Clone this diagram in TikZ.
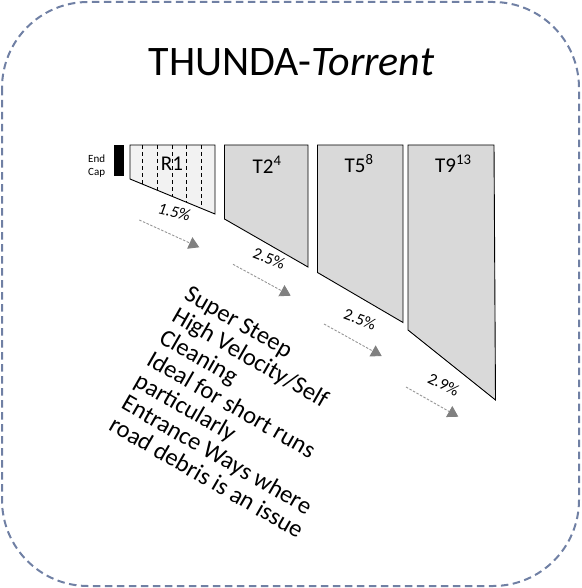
\documentclass[tikz,border=0pt]{standalone}
\usepackage{fontspec}
\setmainfont{Carlito}
\usetikzlibrary{arrows.meta,calc}
\definecolor{borderblue}{RGB}{112,128,164}
\definecolor{pipegray}{RGB}{217,217,217}
\definecolor{paleg}{RGB}{242,242,242}
\definecolor{flowgray}{RGB}{128,128,128}
\definecolor{flowline}{RGB}{150,150,150}
\begin{document}
\begin{tikzpicture}[x=1pt,y=-1pt,
  channel/.style={draw=black,line width=0.9pt,fill=pipegray,line join=miter},
  flow/.style={draw=flowline,line width=0.9pt,dash pattern=on 2.5pt off 1.5pt,
    -{Triangle[length=10.5pt,width=12.5pt,color=flowgray]}},
  grade/.style={inner sep=0pt,font=\fontsize{16.5}{19}\selectfont},
  lbl/.style={inner sep=0pt,anchor=base west,font=\fontsize{21}{25}\selectfont}]

\useasboundingbox (0,0) rectangle (581,588);
\draw[borderblue,line width=2pt,dash pattern=on 7.5pt off 4.5pt,rounded corners=86pt]
  (2,2) rectangle (579,586);

\node[inner sep=0pt,anchor=base,font=\fontsize{42}{50}\selectfont] (title) at (291.5,75.5)
  {THUNDA-\textit{Torrent}};

% end cap
\fill[black] (114,145) rectangle (123.5,175.5);
\node[inner sep=0pt,anchor=base west,font=\fontsize{11}{12.7}\selectfont] (endcap) at (88,162.3)
  {\vtop{\hbox{End}\hbox{Cap}}};

% R1
\coordinate (r1tl) at (130,145);
\coordinate (r1tr) at (215,145);
\coordinate (r1br) at (215,214);
\coordinate (r1bl) at (130,179);
\draw[channel,fill=paleg] (r1tl) -- (r1tr) -- (r1br) -- (r1bl) -- cycle;
\foreach \t in {0.15,0.322,0.494,0.667,0.84}
  \draw[black,line width=0.9pt,dash pattern=on 4pt off 3pt]
    ($(r1tl)!\t!(r1tr)$) -- ($(r1bl)!\t!(r1br)$);
\node[lbl,anchor=base] (r1) at (172,170.7) {R1};

% T2
\coordinate (t2tl) at (224.5,145);
\coordinate (t2tr) at (308,145);
\coordinate (t2br) at (308,267);
\coordinate (t2bl) at (224.5,219);
\draw[channel] (t2tl) -- (t2tr) -- (t2br) -- (t2bl) -- cycle;
\node[lbl] (t2) at (252.5,173) {T2\textsuperscript{4}};

% T5
\coordinate (t5tl) at (317.5,145);
\coordinate (t5tr) at (403,145);
\coordinate (t5br) at (403,322.5);
\coordinate (t5bl) at (317.5,272.5);
\draw[channel] (t5tl) -- (t5tr) -- (t5br) -- (t5bl) -- cycle;
\node[lbl] (t5) at (344.5,172) {T5\textsuperscript{8}};

% T9
\coordinate (t9tl) at (408,145);
\coordinate (t9tr) at (494,145);
\coordinate (t9br) at (495.5,400);
\coordinate (t9bl) at (408,330);
\draw[channel] (t9tl) -- (t9tr) -- (t9br) -- (t9bl) -- cycle;
\node[lbl] (t9) at (435,172.5) {T9\textsuperscript{13}};

% grades
\node[grade,rotate=-13,font=\fontsize{16.5}{19}\selectfont\itshape] (g1) at (174.3,211.7) {1.5\%};
\node[grade,rotate=-21] (g2) at (269.2,258.3) {2.5\%};
\node[grade,rotate=-20] (g3) at (360,319.3) {2.5\%};
\node[grade,rotate=-27] (g4) at (443.7,384.5) {2.9\%};

% flow arrows
\coordinate (a1s) at (139.3,220);   \coordinate (a1e) at (199.3,247.3);
\coordinate (a2s) at (233,264.3);   \coordinate (a2e) at (290.7,295.7);
\coordinate (a3s) at (324,324);     \coordinate (a3e) at (381.7,356);
\coordinate (a4s) at (406,387);     \coordinate (a4e) at (458.3,416.7);
\draw[flow] (a1s) -- (a1e);
\draw[flow] (a2s) -- (a2e);
\draw[flow] (a3s) -- (a3e);
\draw[flow] (a4s) -- (a4e);

% description
\node[inner sep=0pt,rotate=-30,anchor=base west,font=\fontsize{24.5}{25.2}\selectfont] (desc) at (183,298.5)
  {\vtop{\hbox{Super Steep}\hbox{High Velocity/Self}\hbox{Cleaning}\hbox{Ideal for short runs}%
   \hbox{particularly}\hbox{Entrance Ways where}\hbox{road debris is an issue}}};
\end{tikzpicture}
\end{document}
